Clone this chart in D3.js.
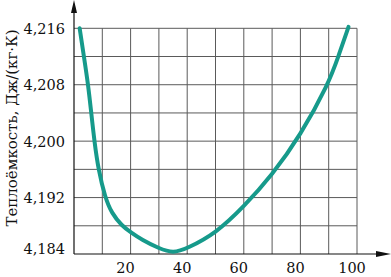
<!DOCTYPE html>
<html><head><meta charset="utf-8">
<script src="https://cdn.jsdelivr.net/npm/d3@7"></script>
<style>body{margin:0;background:#fff}svg{display:block}</style>
</head><body>
<svg id="c" width="391" height="277"></svg>
<script>
const temps = [2, 3.5, 5, 6.1, 7.2, 8.6, 11, 13.3, 16.9, 20, 24, 30, 35, 40, 50, 60, 70, 80, 90, 93.4, 97];
const heat  = [4.2160, 4.2120, 4.2080, 4.2040, 4.2000, 4.1960, 4.1920, 4.1898, 4.1880, 4.1871, 4.1860, 4.1848, 4.1841, 4.1848, 4.1869, 4.1907, 4.1952, 4.2008, 4.2082, 4.2120, 4.2162];
const xTicks = [20, 40, 60, 80, 100];
const xGrid = [10, 20, 30, 40, 50, 60, 70, 80, 90, 100];
const yTicks = [4.184, 4.192, 4.200, 4.208, 4.216];
const yGrid = [4.188, 4.192, 4.196, 4.200, 4.204, 4.208, 4.212, 4.216];
const yTickLabels = ["4,184", "4,192", "4,200", "4,208", "4,216"];
const yTitle = "Теплоёмкость, Дж/(кг·К)";

const svg = d3.select("#c");
const x = d3.scaleLinear().domain([0, 100]).range([74, 357]);
const y = d3.scaleLinear().domain([4.184, 4.216]).range([254, 28.3]);
const font = "DejaVu Serif";

// grid
svg.append("g").selectAll("line").data(xGrid).join("line")
  .attr("x1", d => x(d)).attr("x2", d => x(d))
  .attr("y1", y(4.216)).attr("y2", y(4.184))
  .attr("stroke", "#5a5a5a").attr("stroke-width", 1);
svg.append("g").selectAll("line").data(yGrid).join("line")
  .attr("x1", x(0)).attr("x2", x(100))
  .attr("y1", d => y(d)).attr("y2", d => y(d))
  .attr("stroke", "#5a5a5a").attr("stroke-width", 1);

// axes
svg.append("line").attr("x1", x(0)).attr("x2", x(0)).attr("y1", y(4.184)).attr("y2", 6)
  .attr("stroke", "#111").attr("stroke-width", 1.2);
svg.append("path").attr("d", `M${x(0)},0 L${x(0)-3},13 L${x(0)+3},13 Z`).attr("fill", "#111");
svg.append("line").attr("x1", x(0)).attr("x2", 384).attr("y1", y(4.184)).attr("y2", y(4.184))
  .attr("stroke", "#111").attr("stroke-width", 1.2);
svg.append("path").attr("d", `M391,${y(4.184)} L376,${y(4.184)-3} L376,${y(4.184)+3} Z`).attr("fill", "#111");

// curve
const pts = temps.map((t, i) => [t, heat[i]]);
svg.append("path").datum(pts)
  .attr("d", d3.line().x(d => x(d[0])).y(d => y(d[1])).curve(d3.curveBasis))
  .attr("fill", "none").attr("stroke", "#169a8b").attr("stroke-width", 4).attr("stroke-linecap", "round");

// x labels
svg.append("g").selectAll("text").data(xTicks).join("text")
  .attr("x", d => x(d) - 5).attr("y", 273)
  .attr("text-anchor", "middle").attr("font-family", font).attr("font-size", 14.5).attr("fill", "#111")
  .text(d => d);

// y labels
svg.append("g").selectAll("text").data(yTicks).join("text")
  .attr("x", 65).attr("y", (d, i) => i === 0 ? y(d) : y(d) + 5.5)
  .attr("text-anchor", "end").attr("font-family", font).attr("font-size", 14.5).attr("fill", "#111")
  .text((d, i) => yTickLabels[i]);

// y title
svg.append("text").attr("transform", "translate(17,128) rotate(-90)")
  .attr("text-anchor", "middle").attr("font-family", font).attr("font-size", 15).attr("fill", "#111")
  .text(yTitle);
</script>
</body></html>
